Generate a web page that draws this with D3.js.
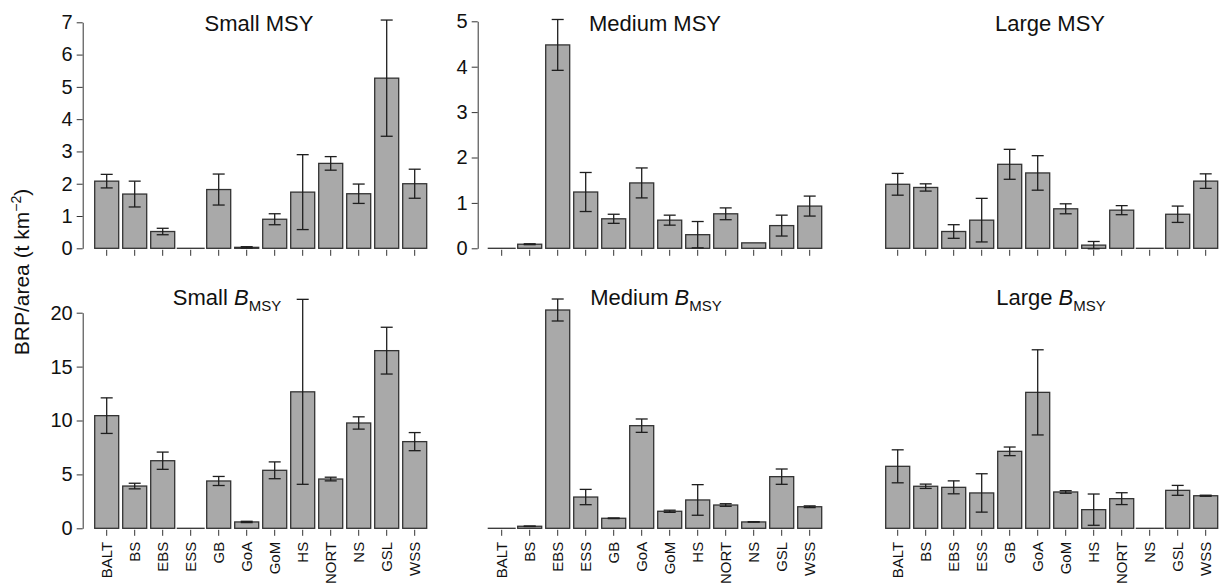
<!DOCTYPE html>
<html>
<head>
<meta charset="utf-8">
<script src="https://cdn.jsdelivr.net/npm/d3@7"></script>
<style>
  body { margin: 0; background: #fff; }
  text { font-family: "Liberation Sans", Arial, sans-serif; fill: #111; }
</style>
</head>
<body>
<script>
// data {{{ //

const regions = ["BALT", "BS", "EBS", "ESS", "GB", "GoA", "GoM", "HS", "NORT", "NS", "GSL", "WSS"];

const smallMsy      = [2.08, 1.68, 0.52, 0, 1.82, 0.03, 0.90, 1.74, 2.63, 1.69, 5.27, 2.00];
const smallMsyErr   = [0.21, 0.40, 0.10, 0, 0.48, 0.02, 0.17, 1.16, 0.21, 0.30, 1.80, 0.45];
const mediumMsy     = [0, 0.09, 4.48, 1.24, 0.65, 1.44, 0.62, 0.30, 0.76, 0.12, 0.50, 0.93];
const mediumMsyErr  = [0, 0.01, 0.56, 0.43, 0.10, 0.33, 0.11, 0.29, 0.13, 0, 0.23, 0.22];
const largeMsy      = [1.41, 1.34, 0.37, 0.62, 1.85, 1.66, 0.87, 0.07, 0.84, 0, 0.75, 1.48];
const largeMsyErr   = [0.24, 0.08, 0.15, 0.48, 0.33, 0.38, 0.11, 0.08, 0.10, 0, 0.18, 0.16];

const smallBmsy     = [10.45, 3.92, 6.27, 0, 4.39, 0.59, 5.38, 12.66, 4.57, 9.77, 16.48, 8.04];
const smallBmsyErr  = [1.65, 0.26, 0.80, 0, 0.42, 0.06, 0.78, 8.58, 0.17, 0.57, 2.17, 0.84];
const mediumBmsy    = [0, 0.19, 20.25, 2.90, 0.93, 9.52, 1.58, 2.63, 2.16, 0.59, 4.79, 2.00];
const mediumBmsyErr = [0, 0.02, 1.02, 0.71, 0.03, 0.62, 0.10, 1.42, 0.12, 0.02, 0.71, 0.08];
const largeBmsy     = [5.75, 3.90, 3.80, 3.28, 7.14, 12.61, 3.37, 1.73, 2.75, 0, 3.52, 3.02];
const largeBmsyErr  = [1.53, 0.20, 0.60, 1.78, 0.40, 3.95, 0.12, 1.45, 0.55, 0, 0.46, 0.05];

const msyTicks  = { small: [0, 1, 2, 3, 4, 5, 6, 7], medium: [0, 1, 2, 3, 4, 5] };
const bmsyTicks = [0, 5, 10, 15, 20];

// }}} data //

// layout {{{ //

const W = 1219, H = 585;
const step = 28;
const cols = [92.7, 487.7, 883.7];
const rowBase = [248.3, 528.3];

const panels = [
  { size: "Small",  sub: false, vals: smallMsy,   errs: smallMsyErr,   col: 0, row: 0, ymax: 7,  top: 22.3,  ticks: msyTicks.small,  axis: true,  tx: 259, ty: 30.5 },
  { size: "Medium", sub: false, vals: mediumMsy,  errs: mediumMsyErr,  col: 1, row: 0, ymax: 5,  top: 21.3,  ticks: msyTicks.medium, axis: true,  tx: 655, ty: 30.5 },
  { size: "Large",  sub: false, vals: largeMsy,   errs: largeMsyErr,   col: 2, row: 0, ymax: 5,  top: 21.3,  ticks: null,            axis: false, tx: 1050, ty: 30.5 },
  { size: "Small",  sub: true,  vals: smallBmsy,  errs: smallBmsyErr,  col: 0, row: 1, ymax: 20, top: 312.7, ticks: bmsyTicks,       axis: true,  tx: 227, ty: 305 },
  { size: "Medium", sub: true,  vals: mediumBmsy, errs: mediumBmsyErr, col: 1, row: 1, ymax: 20, top: 312.7, ticks: null,            axis: false, tx: 656, ty: 305 },
  { size: "Large",  sub: true,  vals: largeBmsy,  errs: largeBmsyErr,  col: 2, row: 1, ymax: 20, top: 312.7, ticks: null,            axis: false, tx: 1051, ty: 305 }
];

// }}} layout //

const svg = d3.select("body").append("svg")
  .attr("width", W)
  .attr("height", H);

panels.forEach(function(p) {
  let left = cols[p.col];
  let base = rowBase[p.row];

  let x = d3.scaleBand()
    .domain(regions)
    .range([left, left + step * regions.length])
    .paddingInner(0.143)
    .paddingOuter(0.0715);
  let y = d3.scaleLinear()
    .domain([0, p.ymax])
    .range([base, p.top]);

  let data = regions.map((r, i) => ({ r: r, v: p.vals[i], e: p.errs[i] }));
  let g = svg.append("g");

  // bars {{{ //
  g.selectAll("rect")
    .data(data.filter(d => d.v > 0))
    .join("rect")
    .attr("x", d => x(d.r))
    .attr("y", d => y(d.v))
    .attr("width", x.bandwidth())
    .attr("height", d => y(0) - y(d.v))
    .attr("fill", "#a9a9a9")
    .attr("stroke", "#333")
    .attr("stroke-width", 1.3);

  // zero-height bars show as a flat line
  g.selectAll("line.zero")
    .data(data.filter(d => d.v === 0))
    .join("line")
    .attr("class", "zero")
    .attr("x1", d => x(d.r) - 2)
    .attr("x2", d => x(d.r) + x.bandwidth() + 2)
    .attr("y1", y(0))
    .attr("y2", y(0))
    .attr("stroke", "#333")
    .attr("stroke-width", 1.3);
  // }}} bars //

  // error bars {{{ //
  let eb = g.selectAll("g.err")
    .data(data.filter(d => d.e > 0))
    .join("g")
    .attr("class", "err")
    .attr("stroke", "#1e1e1e")
    .attr("stroke-width", 1.3);
  let cx = d => x(d.r) + x.bandwidth() / 2;
  eb.append("line")
    .attr("x1", cx).attr("x2", cx)
    .attr("y1", d => y(d.v + d.e))
    .attr("y2", d => y(d.v - d.e));
  eb.append("line")
    .attr("x1", d => cx(d) - 6).attr("x2", d => cx(d) + 6)
    .attr("y1", d => y(d.v + d.e)).attr("y2", d => y(d.v + d.e));
  eb.append("line")
    .attr("x1", d => cx(d) - 6).attr("x2", d => cx(d) + 6)
    .attr("y1", d => y(d.v - d.e)).attr("y2", d => y(d.v - d.e));
  // }}} error bars //

  // x-axis {{{ //
  let xa = g.append("g")
    .attr("transform", "translate(0," + (base + 1.5) + ")")
    .call(d3.axisBottom(x).tickSize(6).tickSizeOuter(0).tickFormat(p.row === 1 ? null : ""));
  xa.select(".domain").remove();
  xa.selectAll(".tick line").attr("stroke", "#333");
  if (p.row === 1) {
    xa.selectAll(".tick text")
      .attr("transform", "rotate(-90)")
      .attr("text-anchor", "end")
      .attr("x", -12)
      .attr("y", 0)
      .attr("dy", "0.36em")
      .style("font-size", "15px")
      .style("font-family", "'Liberation Sans', Arial, sans-serif")
      .attr("fill", "#111");
  }
  // }}} x-axis //

  // y-axis {{{ //
  if (p.axis) {
    let ya = g.append("g")
      .attr("transform", "translate(" + (left - 10) + ",0)")
      .call(d3.axisLeft(y).tickValues(p.ticks).tickFormat(d3.format("d"))
        .tickSize(6).tickSizeOuter(0).tickPadding(4));
    ya.select(".domain").attr("stroke", "#333");
    ya.selectAll(".tick line").attr("stroke", "#333");
    ya.selectAll(".tick text")
      .style("font-size", "20px")
      .style("font-family", "'Liberation Sans', Arial, sans-serif")
      .attr("fill", "#111");
  }
  // }}} y-axis //

  // title {{{ //
  let t = svg.append("text")
    .attr("x", p.tx)
    .attr("y", p.ty)
    .attr("text-anchor", "middle")
    .style("font-size", "22px");
  if (p.sub) {
    t.append("tspan").text(p.size + " ");
    t.append("tspan").attr("font-style", "italic").text("B");
    t.append("tspan").attr("dy", 6).style("font-size", "15px").text("MSY");
  } else {
    t.text(p.size + " MSY");
  }
  // }}} title //
});

// shared y label
let yl = svg.append("text")
  .attr("transform", "translate(29,272) rotate(-90)")
  .attr("text-anchor", "middle")
  .style("font-size", "21px");
yl.append("tspan").text("BRP/area (t km");
yl.append("tspan").attr("dy", -8).style("font-size", "14px").text("\u22122");
yl.append("tspan").attr("dy", 8).text(")");
</script>
</body>
</html>
